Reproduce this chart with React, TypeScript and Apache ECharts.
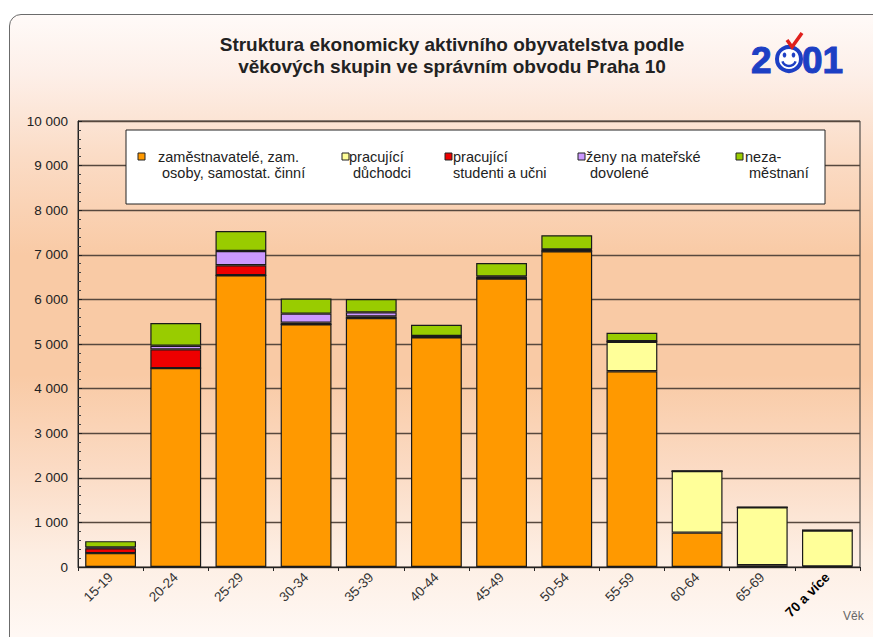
import React, { useEffect, useRef } from 'react';
import * as echarts from 'echarts';

const categories = ['15-19', '20-24', '25-29', '30-34', '35-39', '40-44', '45-49', '50-54', '55-59', '60-64', '65-69', '70 a více'];
const zamestnavatele = [310, 4460, 6540, 5440, 5580, 5150, 6470, 7080, 4390, 770, 40, 15];
const duchodci = [0, 0, 0, 0, 0, 0, 0, 0, 660, 1380, 1300, 805];
const studenti = [110, 420, 225, 40, 40, 30, 30, 30, 10, 0, 0, 0];
const zeny = [20, 80, 320, 200, 90, 0, 15, 10, 0, 0, 0, 0];
const nezamestnani = [140, 510, 450, 340, 300, 250, 300, 320, 190, 0, 0, 0];

const legendLabels = [
  'zaměstnavatelé, zam.\n osoby, samostat. činní',
  'pracující\n důchodci',
  'pracující\nstudenti a učni',
  'ženy na mateřské\n dovolené',
  'neza-\n městnaní',
];
const seriesNames = [
  'zaměstnavatelé, zam. osoby, samostat. činní',
  'pracující důchodci',
  'pracující studenti a učni',
  'ženy na mateřské dovolené',
  'nezaměstnaní',
];
const seriesData = [zamestnavatele, duchodci, studenti, zeny, nezamestnani];
const colors = ['#FF9900', '#FFFF99', '#EE0000', '#CC99FF', '#99CC00'];

const titleText = 'Struktura ekonomicky aktivního obyvatelstva podle\nvěkových skupin ve správním obvodu Praha 10';
const FONT = '"Liberation Sans", Arial, sans-serif';

export default function App() {
  const ref = useRef<HTMLDivElement>(null);
  useEffect(() => {
    const chart = echarts.init(ref.current!, null, { renderer: 'svg' });
    const legendSquareX = [138, 342, 445, 578, 736];
    const legendTextX = [158, 349, 453, 586, 745];
    const blue = '#1d3fc4';
    const graphic: any[] = [
      {
        type: 'text', x: 452, y: 33, z: 10,
        style: { text: titleText, fontFamily: FONT, fontSize: 19, fontWeight: 'bold', fill: '#222', align: 'center', verticalAlign: 'top', lineHeight: 22 },
      },
      { type: 'rect', z: 10, shape: { x: 126, y: 130, width: 699, height: 74 }, style: { fill: '#ffffff', stroke: '#222', lineWidth: 1 } },
      { type: 'text', x: 843, y: 616, z: 10, style: { text: 'Věk', fontFamily: FONT, fontSize: 12, fill: '#666', verticalAlign: 'middle' } },
      // logo
      { type: 'text', x: 751, y: 60, z: 10, style: { text: '2', fontFamily: FONT, fontSize: 37, fontWeight: 'bold', fill: blue, verticalAlign: 'middle', stroke: blue, lineWidth: 1 } },
      { type: 'text', x: 802, y: 60, z: 10, style: { text: '01', fontFamily: FONT, fontSize: 37, fontWeight: 'bold', fill: blue, verticalAlign: 'middle', stroke: blue, lineWidth: 1 } },
      { type: 'circle', z: 10, shape: { cx: 789, cy: 59, r: 12 }, style: { fill: '#fff', stroke: blue, lineWidth: 4 } },
      { type: 'ellipse', z: 11, shape: { cx: 784.5, cy: 55, rx: 1.8, ry: 2.6 }, style: { fill: blue } },
      { type: 'ellipse', z: 11, shape: { cx: 793.5, cy: 55, rx: 1.8, ry: 2.6 }, style: { fill: blue } },
      { type: 'arc', z: 11, shape: { cx: 789, cy: 59, r: 7, startAngle: 0.35, endAngle: Math.PI - 0.35 }, style: { stroke: blue, lineWidth: 2.5, fill: 'none' } },
      { type: 'polyline', z: 12, shape: { points: [[787, 40], [792, 47], [802, 33]] }, style: { stroke: '#e0201c', lineWidth: 3.5, fill: 'none' } },
    ];
    legendLabels.forEach((lbl, i) => {
      graphic.push({ type: 'rect', z: 11, shape: { x: legendSquareX[i], y: 153, width: 7, height: 7 }, style: { fill: colors[i], stroke: '#222', lineWidth: 1 } });
      graphic.push({ type: 'text', x: legendTextX[i], y: 149, z: 11, style: { text: lbl, fontFamily: FONT, fontSize: 14.5, fill: '#222', verticalAlign: 'top', lineHeight: 16 } });
    });

    chart.setOption({
      animation: false,
      backgroundColor: 'transparent',
      textStyle: { fontFamily: FONT },
      grid: { left: 78, top: 121, right: 13, bottom: 70, show: true, borderColor: '#333', borderWidth: 1, backgroundColor: 'transparent' },
      xAxis: {
        type: 'category',
        data: categories.map((c, i) => i === categories.length - 1 ? { value: c, textStyle: { fontWeight: 'bold', color: '#000' } } : c),
        axisLine: { lineStyle: { color: '#222', width: 1 } },
        axisTick: { show: true, length: 4, lineStyle: { color: '#222' } },
        axisLabel: { rotate: 45, interval: 0, fontSize: 13.5, color: '#333', margin: 8, fontFamily: FONT },
      },
      yAxis: {
        type: 'value', min: 0, max: 10000, interval: 1000,
        axisLine: { show: true, lineStyle: { color: '#222' } },
        axisTick: { show: true, inside: true, length: 4, lineStyle: { color: '#222' } },
        minorTick: { show: true, splitNumber: 5, length: 3, lineStyle: { color: '#444' } },
        splitLine: { show: true, lineStyle: { color: '#57483e', width: 1.3 } },
        axisLabel: {
          fontSize: 13.5, color: '#222', margin: 10, fontFamily: FONT,
          formatter: (v: number) => (v === 0 ? '0' : `${v / 1000} 000`),
        },
      },
      legend: { show: false },
      series: seriesNames.map((name, i) => ({
        type: 'bar', name, stack: 'total', data: seriesData[i], barCategoryGap: '22%',
        itemStyle: { color: colors[i], borderColor: '#1a1a1a', borderWidth: 1.2 },
      })),
      graphic,
    });
    return () => chart.dispose();
  }, []);

  return (
    <div style={{ position: 'absolute', left: 0, top: 0, width: 873, height: 637, overflow: 'hidden', background: '#fff' }}>
      <div
        style={{
          position: 'absolute', left: 9, top: 14, width: 880, height: 640, boxSizing: 'border-box',
          border: '1.5px solid #6b6b6b', borderRadius: 12,
          background: 'linear-gradient(to bottom, #fffaf8 0px, #fdefe8 60px, #fbdcc6 140px, #f9caa5 240px, #f9caa5 360px, #fbdcc6 460px, #fdeee3 540px, #fff8f4 620px)',
        }}
      />
      <div ref={ref} style={{ position: 'absolute', left: 0, top: 0, width: 873, height: 637 }} />
    </div>
  );
}
